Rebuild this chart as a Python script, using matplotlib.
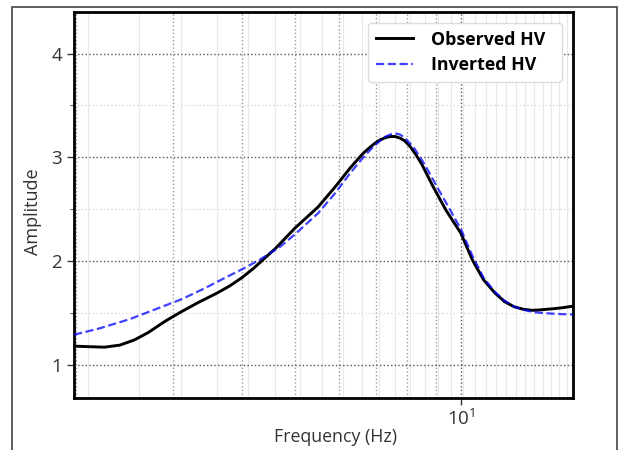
import matplotlib
matplotlib.use("Agg")
import matplotlib.pyplot as plt
from matplotlib.patches import Rectangle
from matplotlib.ticker import FixedLocator, NullFormatter
import numpy as np

# Observed HV curve (frequency in Hz, amplitude)
obs_freq = [1.98, 2.1, 2.25, 2.4, 2.55, 2.7, 2.9, 3.1, 3.33, 3.6, 3.8, 4.0, 4.2, 4.6,
            5.0, 5.5, 5.9, 6.3, 6.65, 6.85, 7.0, 7.15, 7.3, 7.45, 7.6, 7.75, 7.9,
            8.1, 8.3, 8.5, 8.9, 9.4, 10.0, 10.5, 11.0, 11.5, 12.0, 12.5, 13.0,
            13.5, 14.0, 14.7, 15.3, 16.0]
obs_amp = [1.18, 1.175, 1.17, 1.19, 1.24, 1.31, 1.42, 1.51, 1.60, 1.69, 1.76, 1.84, 1.93, 2.12,
           2.32, 2.52, 2.71, 2.90, 3.04, 3.10, 3.14, 3.17, 3.19, 3.20, 3.20, 3.185, 3.16,
           3.10, 3.02, 2.93, 2.72, 2.49, 2.27, 2.01, 1.82, 1.70, 1.61, 1.56, 1.535,
           1.525, 1.53, 1.54, 1.55, 1.565]

# Inverted HV curve
inv_freq = [1.98, 2.2, 2.5, 2.8, 3.1, 3.4, 3.7, 4.0, 4.3, 4.7, 5.0, 5.5, 5.9, 6.3,
            6.65, 6.9, 7.1, 7.3, 7.45, 7.6, 7.75, 7.9, 8.2, 8.6, 9.0, 9.5, 10.0,
            10.5, 11.0, 11.5, 12.0, 12.5, 13.0, 13.5, 14.0, 15.0, 16.0]
inv_amp = [1.29, 1.35, 1.44, 1.54, 1.63, 1.73, 1.83, 1.92, 2.01, 2.14, 2.26, 2.46, 2.65, 2.85,
           3.00, 3.09, 3.15, 3.20, 3.22, 3.23, 3.22, 3.19, 3.10, 2.93, 2.74, 2.52, 2.31,
           2.05, 1.84, 1.71, 1.62, 1.56, 1.53, 1.51, 1.50, 1.49, 1.485]

y_ticks = [1, 2, 3, 4]
y_minor = [1.5, 2.5, 3.5]

plt.rcParams['font.family'] = ['Open Sans', 'DejaVu Sans']

fig = plt.figure(figsize=(6.19, 4.5), dpi=100)
ax = fig.add_axes([74/619, 1 - 397.5/450, (573 - 74)/619, (397.5 - 12)/450])

# faint background vertical grid
for f in np.arange(2.1, 16.0, 0.5):
    ax.axvline(f, color='#e8e8e8', lw=0.8, zorder=0)

ax.plot(obs_freq, obs_amp, color='black', lw=2.1, label='Observed HV', zorder=3,
        solid_joinstyle='round')
ax.plot(inv_freq, inv_amp, color='blue', ls='--', lw=1.6, alpha=0.75, label='Inverted HV', zorder=4)

ax.set_xscale('log')
ax.set_xlim(1.98, 16.0)
ax.set_ylim(0.685, 4.4)
ax.yaxis.set_major_locator(FixedLocator(y_ticks))
ax.yaxis.set_minor_locator(FixedLocator(y_minor))
ax.yaxis.set_minor_formatter(NullFormatter())
ax.xaxis.set_minor_formatter(NullFormatter())

ax.grid(which='major', axis='both', ls=':', color='#555555', lw=1.0, zorder=1)
ax.grid(which='minor', axis='x', ls=':', color='#9a9a9a', lw=1.0, zorder=1)
ax.grid(which='minor', axis='y', ls=':', color='#dddddd', lw=1.0, zorder=1)

ax.tick_params(axis='both', which='major', labelsize=13.5, length=5, width=1, colors='#333333')
ax.tick_params(axis='x', which='minor', length=0)
ax.tick_params(axis='y', which='minor', length=3, width=0.8, colors='#555555')

for s in ax.spines.values():
    s.set_linewidth(2.0)
    s.set_color('black')

ax.set_xlabel('Frequency (Hz)', fontsize=12.8, color='#333333')
ax.set_ylabel('Amplitude', fontsize=13, color='#333333')
ax.xaxis.set_label_coords(0.525, -0.080)
ax.yaxis.set_label_coords(-0.065, 0.481)

leg = ax.legend(loc='upper right', prop={'weight': 'bold', 'size': 12.8},
                framealpha=1.0, edgecolor='#dddddd', borderpad=0.45,
                handlelength=2.1, handletextpad=1.0, borderaxespad=0.6,
                labelspacing=0.4)
# extra right padding inside the legend box, as in the reference
for t in leg.get_texts():
    t.set_text(t.get_text() + '  ')

fig.patches.append(Rectangle((12/619, -0.1), (617 - 12)/619, 1.1 - 7/450,
                             transform=fig.transFigure, fill=False,
                             edgecolor='#444444', lw=1.2))

fig.savefig('out.png', dpi=100)
